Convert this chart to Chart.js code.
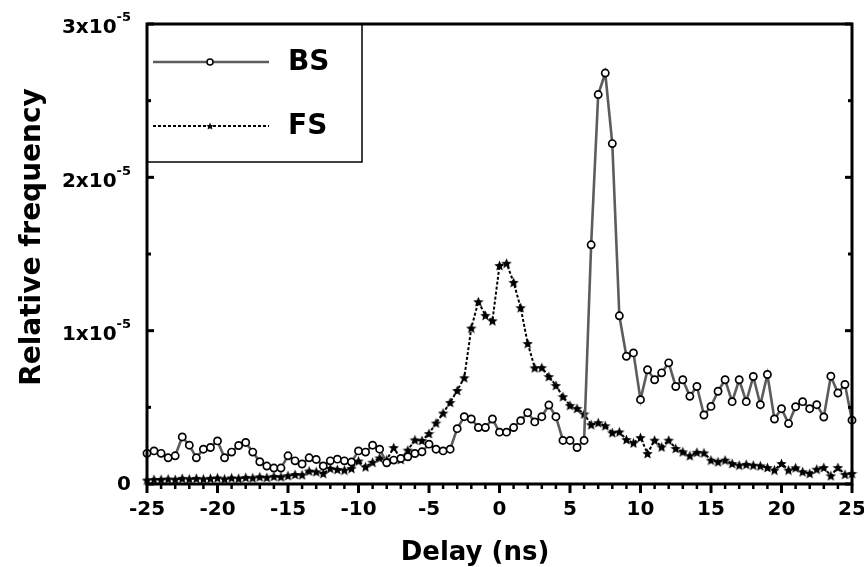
<!DOCTYPE html>
<html>
<head>
<meta charset="utf-8">
<script src="https://cdn.jsdelivr.net/npm/chart.js@4.4.1/dist/chart.umd.min.js"></script>
<style>
  html, body { margin: 0; padding: 0; background: #fff; }
</style>
</head>
<body>
<canvas id="myChart" width="864" height="567"></canvas>
<script>
// delay in ns
const delays = [
  -25, -24.5, -24, -23.5, -23, -22.5, -22, -21.5, -21, -20.5,
  -20, -19.5, -19, -18.5, -18, -17.5, -17, -16.5, -16, -15.5,
  -15, -14.5, -14, -13.5, -13, -12.5, -12, -11.5, -11, -10.5,
  -10, -9.5, -9, -8.5, -8, -7.5, -7, -6.5, -6, -5.5,
  -5, -4.5, -4, -3.5, -3, -2.5, -2, -1.5, -1, -0.5,
  0, 0.5, 1, 1.5, 2, 2.5, 3, 3.5, 4, 4.5,
  5, 5.5, 6, 6.5, 7, 7.5, 8, 8.5, 9, 9.5,
  10, 10.5, 11, 11.5, 12, 12.5, 13, 13.5, 14, 14.5,
  15, 15.5, 16, 16.5, 17, 17.5, 18, 18.5, 19, 19.5,
  20, 20.5, 21, 21.5, 22, 22.5, 23, 23.5, 24, 24.5,
  25
];

// relative frequency, in units of 1e-6
const bsValues = [
  2.0, 2.16, 2.0, 1.71, 1.84, 3.07, 2.53, 1.71, 2.27, 2.38,
  2.81, 1.71, 2.08, 2.51, 2.71, 2.08, 1.45, 1.17, 1.04, 1.04,
  1.84, 1.51, 1.30, 1.71, 1.60, 1.17, 1.51, 1.62, 1.51, 1.43,
  2.16, 2.08, 2.53, 2.27, 1.38, 1.56, 1.67, 1.77, 1.99, 2.10,
  2.60, 2.27, 2.16, 2.27, 3.61, 4.39, 4.24, 3.68, 3.68, 4.24,
  3.38, 3.38, 3.68, 4.13, 4.65, 4.05, 4.39, 5.15, 4.39, 2.84,
  2.84, 2.38, 2.84, 15.6, 25.4, 26.8, 22.2, 10.97, 8.33, 8.55,
  5.50, 7.45, 6.80, 7.25, 7.90, 6.36, 6.80, 5.72, 6.36, 4.50,
  5.06, 6.05, 6.80, 5.37, 6.80, 5.37, 7.01, 5.17, 7.14, 4.24,
  4.91, 3.94, 5.04, 5.37, 4.91, 5.17, 4.37, 7.03, 5.93, 6.49,
  4.16
];

const fsValues = [
  0.26, 0.30, 0.30, 0.33, 0.30, 0.37, 0.33, 0.37, 0.33, 0.37,
  0.40, 0.33, 0.40, 0.37, 0.43, 0.40, 0.47, 0.43, 0.50, 0.47,
  0.55, 0.62, 0.60, 0.85, 0.80, 0.69, 1.02, 0.95, 0.91, 1.02,
  1.50, 1.12, 1.42, 1.70, 1.58, 2.38, 1.60, 2.21, 2.88, 2.84,
  3.29, 3.98, 4.63, 5.32, 6.10, 6.93, 10.17, 11.89, 11.0, 10.65,
  14.25, 14.4, 13.15, 11.5, 9.17, 7.58, 7.59, 7.01, 6.43, 5.70,
  5.13, 4.93, 4.57, 3.87, 4.00, 3.80, 3.35, 3.40, 2.90, 2.68,
  3.03, 1.99, 2.86, 2.42, 2.86, 2.32, 2.10, 1.85, 2.07, 2.03,
  1.56, 1.45, 1.56, 1.34, 1.23, 1.28, 1.23, 1.19, 1.08, 0.91,
  1.34, 0.91, 1.06, 0.80, 0.69, 0.97, 1.08, 0.54, 1.08, 0.63,
  0.69
];

const seriesNames = ["BS", "FS"];
const xTickValues = [-25, -20, -15, -10, -5, 0, 5, 10, 15, 20, 25];
const yTickValues = [0, 10, 20, 30];
const yTickBase = ["0", "1x10", "2x10", "3x10"];
const yTickExp = ["", "-5", "-5", "-5"];

const FONT = "'DejaVu Sans', 'Liberation Sans', sans-serif";

function makeStar(size) {
  const c = document.createElement("canvas");
  c.width = size;
  c.height = size;
  const ctx = c.getContext("2d");
  const r = size / 2;
  const ri = r * 0.45;
  ctx.beginPath();
  for (let i = 0; i < 10; i++) {
    const a = -Math.PI / 2 + (i * Math.PI) / 5;
    const rad = i % 2 === 0 ? r : ri;
    ctx.lineTo(r + rad * Math.cos(a), r + 0.6 + rad * Math.sin(a));
  }
  ctx.closePath();
  ctx.fillStyle = "#000";
  ctx.fill();
  return c;
}

const star = makeStar(11);

function line(ctx, x1, y1, x2, y2) {
  ctx.beginPath();
  ctx.moveTo(x1, y1);
  ctx.lineTo(x2, y2);
  ctx.stroke();
}

// frame, ticks, y labels, titles and legend box
const decorPlugin = {
  id: "decor",
  afterDraw(chart) {
    const ctx = chart.ctx;
    const area = chart.chartArea;
    const xs = chart.scales.x;
    const ys = chart.scales.y;
    ctx.save();
    ctx.strokeStyle = "#000";
    ctx.fillStyle = "#000";

    // x ticks (outward), minor each ns
    for (let v = xs.min; v <= xs.max; v++) {
      const px = xs.getPixelForValue(v);
      const major = xTickValues.includes(v);
      ctx.lineWidth = major ? 3 : 2.5;
      line(ctx, px, area.bottom, px, area.bottom + (major ? 9 : 5));
    }
    // y ticks (inward), left and right
    for (let v = ys.min; v <= ys.max; v += 5) {
      const py = ys.getPixelForValue(v);
      const major = yTickValues.includes(v);
      const len = major ? 7 : 4;
      ctx.lineWidth = 3;
      line(ctx, area.left, py, area.left + len, py);
      line(ctx, area.right, py, area.right - len, py);
    }

    ctx.lineWidth = 3;
    ctx.strokeRect(area.left, area.top, area.right - area.left, area.bottom - area.top);

    // y tick labels with superscript
    const labelRight = area.left - 16;
    yTickValues.forEach((v, i) => {
      const py = ys.getPixelForValue(v);
      ctx.textAlign = "right";
      ctx.textBaseline = "middle";
      ctx.font = "bold 13px " + FONT;
      const expW = yTickExp[i] ? ctx.measureText(yTickExp[i]).width : 0;
      if (yTickExp[i]) ctx.fillText(yTickExp[i], labelRight, py - 6);
      ctx.font = "bold 20px " + FONT;
      ctx.fillText(yTickBase[i], labelRight - expW, py + (yTickExp[i] ? 4 : 1));
    });

    // axis titles
    ctx.font = "bold 26px " + FONT;
    ctx.textAlign = "center";
    ctx.textBaseline = "alphabetic";
    ctx.fillText("Delay (ns)", 475, 560);

    ctx.save();
    ctx.translate(40, 237);
    ctx.rotate(-Math.PI / 2);
    ctx.font = "bold 28px " + FONT;
    ctx.fillText("Relative frequency", 0, 0);
    ctx.restore();

    // legend
    const bx = area.left;
    const by = area.top;
    ctx.lineWidth = 1.5;
    ctx.strokeRect(bx, by, 215, 138);

    const rows = [by + 38, by + 102];
    chart.data.datasets.forEach((ds, i) => {
      const ly = rows[i];
      ctx.save();
      ctx.strokeStyle = ds.borderColor;
      ctx.lineWidth = ds.borderWidth;
      ctx.setLineDash(ds.borderDash || []);
      line(ctx, bx + 6, ly, bx + 122, ly);
      ctx.restore();
      if (ds.pointStyle === "circle") {
        ctx.beginPath();
        ctx.arc(bx + 63, ly, 3, 0, Math.PI * 2);
        ctx.fillStyle = "#fff";
        ctx.fill();
        ctx.lineWidth = 1.5;
        ctx.strokeStyle = "#000";
        ctx.stroke();
      } else {
        ctx.drawImage(ds.pointStyle, bx + 63 - 4, ly - 4, 8, 8);
      }
      ctx.fillStyle = "#000";
      ctx.font = "bold 28px " + FONT;
      ctx.textAlign = "left";
      ctx.textBaseline = "middle";
      ctx.fillText(ds.label, bx + 141, ly + 1);
    });

    ctx.restore();
  },
};

function renderChart() {
  const datasets = [
    {
      label: seriesNames[0],
      data: delays.map((d, i) => ({ x: d, y: bsValues[i] })),
      borderColor: "#5c5c5c",
      borderWidth: 2.6,
      pointStyle: "circle",
      pointRadius: 3.6,
      pointBackgroundColor: "#fff",
      pointBorderColor: "#000",
      pointBorderWidth: 1.7,
      tension: 0,
      clip: false,
    },
    {
      label: seriesNames[1],
      data: delays.map((d, i) => ({ x: d, y: fsValues[i] })),
      borderColor: "#000",
      borderWidth: 2,
      borderDash: [3, 2],
      pointStyle: star,
      pointRadius: 5,
      tension: 0,
      clip: false,
    },
  ];

  const config = {
    type: "line",
    data: { datasets },
    options: {
      responsive: false,
      animation: false,
      events: [],
      layout: { padding: { top: 24, right: 12, left: 0, bottom: 0 } },
      plugins: { legend: { display: false }, tooltip: { enabled: false } },
      scales: {
        x: {
          type: "linear",
          min: -25,
          max: 25,
          grid: { display: false, drawTicks: false },
          border: { display: false },
          afterBuildTicks: (scale) => {
            scale.ticks = xTickValues.map((v) => ({ value: v }));
          },
          ticks: {
            color: "#000",
            padding: 14,
            maxRotation: 0,
            autoSkip: false,
            font: { family: FONT, size: 20, weight: "bold" },
          },
          afterFit: (scale) => {
            scale.height = 83;
            scale.paddingLeft = 0;
            scale.paddingRight = 0;
          },
        },
        y: {
          type: "linear",
          min: 0,
          max: 30,
          grid: { display: false, drawTicks: false },
          border: { display: false },
          ticks: { display: false },
          afterFit: (scale) => {
            scale.width = 147;
          },
        },
      },
    },
    plugins: [decorPlugin],
  };

  new Chart(document.getElementById("myChart"), config);
}

renderChart();
</script>
</body>
</html>
